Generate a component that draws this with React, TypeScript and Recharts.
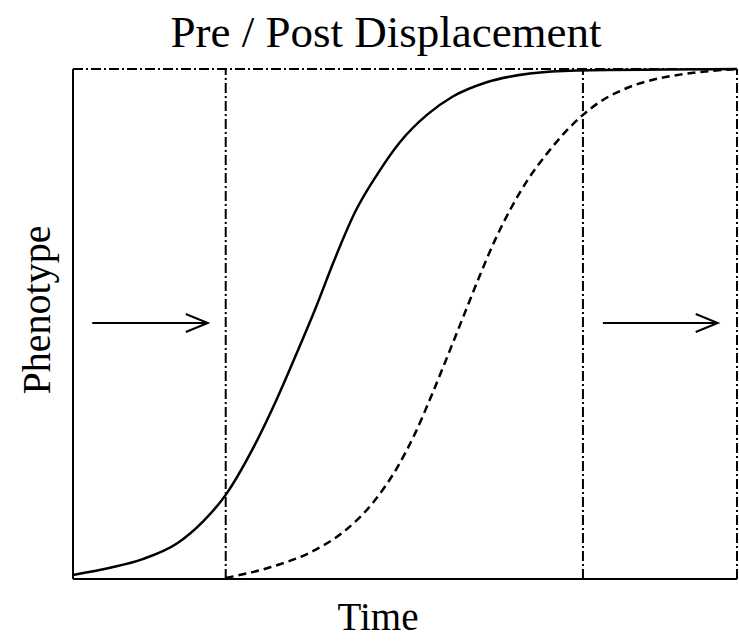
import { LineChart, Line, XAxis, YAxis, ReferenceLine } from 'recharts';

// Pre-displacement (solid) and post-displacement (dashed) trajectories, x = time %, y = phenotype %
const preCurve = [
  { x: 0, y: 0.8 },
  { x: 5.6, y: 2.2 },
  { x: 10.5, y: 3.9 },
  { x: 15.7, y: 7.0 },
  { x: 19.6, y: 11.3 },
  { x: 23.0, y: 16.5 },
  { x: 27.1, y: 25.6 },
  { x: 30.7, y: 35.3 },
  { x: 33.7, y: 44.3 },
  { x: 36.5, y: 53.0 },
  { x: 39.5, y: 63.0 },
  { x: 42.5, y: 72.0 },
  { x: 45.8, y: 79.3 },
  { x: 49.2, y: 85.6 },
  { x: 53.3, y: 91.0 },
  { x: 57.2, y: 94.6 },
  { x: 62.3, y: 97.4 },
  { x: 68.8, y: 99.1 },
  { x: 75.9, y: 99.7 },
  { x: 100, y: 100 },
];

const postCurve = [
  { x: 23.0, y: 0.2 },
  { x: 29.7, y: 2.3 },
  { x: 35.7, y: 5.2 },
  { x: 40.7, y: 9.2 },
  { x: 45.2, y: 15.0 },
  { x: 48.8, y: 21.8 },
  { x: 51.5, y: 28.5 },
  { x: 54.0, y: 36.0 },
  { x: 56.5, y: 44.0 },
  { x: 58.8, y: 51.5 },
  { x: 61.2, y: 59.3 },
  { x: 63.5, y: 66.3 },
  { x: 66.0, y: 72.8 },
  { x: 68.5, y: 78.3 },
  { x: 71.5, y: 83.6 },
  { x: 74.4, y: 88.0 },
  { x: 76.8, y: 91.0 },
  { x: 79.4, y: 93.6 },
  { x: 82.4, y: 95.7 },
  { x: 85.4, y: 97.2 },
  { x: 88.4, y: 98.2 },
  { x: 91.4, y: 98.9 },
  { x: 94.4, y: 99.4 },
  { x: 100, y: 100 },
];

const windowEdges = [23.0, 76.8];
const arrows = [
  { from: 2.9, to: 20.3, y: 50.2 },
  { from: 79.8, to: 97.1, y: 50.2 },
];

const title = 'Pre / Post Displacement';
const xLabel = 'Time';
const yLabel = 'Phenotype';

const DASH_DOT = '10 3 2 3';
const SERIF = '"Liberation Serif", "Times New Roman", serif';

function ArrowShape(props: any) {
  const { x1, y1, x2, y2 } = props;
  return (
    <g>
      <line x1={x1} y1={y1} x2={x2} y2={y2} stroke="#000" strokeWidth={2} />
      <polyline
        points={`${x2 - 22},${y2 - 9} ${x2},${y2} ${x2 - 22},${y2 + 9}`}
        fill="none"
        stroke="#000"
        strokeWidth={2}
      />
    </g>
  );
}

export default function App() {
  return (
    <div style={{ position: 'absolute', left: 0, top: 0, width: 739, height: 641, background: '#fff' }}>
      <LineChart width={739} height={641} margin={{ top: 69, right: 2, bottom: 62, left: 73 }}>
        <XAxis type="number" dataKey="x" domain={[0, 100]} hide />
        <YAxis type="number" dataKey="y" domain={[0, 100]} hide />

        {/* frame */}
        <ReferenceLine y={100} stroke="#000" strokeWidth={2} strokeDasharray={DASH_DOT} />
        <ReferenceLine x={100} stroke="#000" strokeWidth={2} strokeDasharray={DASH_DOT} />
        <ReferenceLine x={0} stroke="#000" strokeWidth={2} />
        <ReferenceLine y={0} stroke="#000" strokeWidth={2} />

        {windowEdges.map((x) => (
          <ReferenceLine key={x} x={x} stroke="#000" strokeWidth={2} strokeDasharray={DASH_DOT} />
        ))}

        {arrows.map((a) => (
          <ReferenceLine
            key={a.from}
            segment={[
              { x: a.from, y: a.y },
              { x: a.to, y: a.y },
            ]}
            shape={ArrowShape}
          />
        ))}

        <Line
          data={preCurve}
          dataKey="y"
          type="monotone"
          stroke="#000"
          strokeWidth={2.5}
          dot={false}
          isAnimationActive={false}
        />
        <Line
          data={postCurve}
          dataKey="y"
          type="monotone"
          stroke="#000"
          strokeWidth={2.5}
          strokeDasharray="8 5"
          dot={false}
          isAnimationActive={false}
        />
      </LineChart>

      <svg
        width={739}
        height={641}
        style={{ position: 'absolute', left: 0, top: 0, pointerEvents: 'none' }}
      >
        <text x={386} y={47} textAnchor="middle" fontFamily={SERIF} fontSize={45} fill="#000">
          {title}
        </text>
        <text x={378} y={630} textAnchor="middle" fontFamily={SERIF} fontSize={39} fill="#000">
          {xLabel}
        </text>
        <text
          x={50}
          y={310}
          textAnchor="middle"
          fontFamily={SERIF}
          fontSize={40}
          fill="#000"
          transform="rotate(-90 50 310)"
        >
          {yLabel}
        </text>
      </svg>
    </div>
  );
}
